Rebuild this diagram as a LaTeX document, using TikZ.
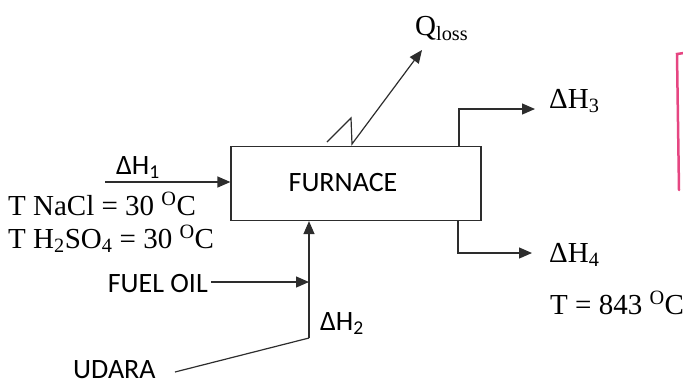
\documentclass[tikz,border=0pt]{standalone}
\usepackage{fontspec}
\setmainfont{Liberation Serif}
\newfontfamily\calib{Carlito}
\usetikzlibrary{arrows.meta,calc,positioning}
\definecolor{inkgray}{RGB}{45,45,45}
\definecolor{markerpink}{RGB}{230,70,130}
\tikzset{
  flow/.style={draw=inkgray,line width=1.2pt,-{Triangle[length=13pt,width=11pt]}},
  plain/.style={draw=inkgray,line width=1.2pt},
  serif/.style={inner sep=0pt,font=\fontsize{29}{31}\selectfont},
  sans/.style={inner sep=0pt,font=\calib\fontsize{28}{30}\selectfont},
  unit/.style={draw=inkgray,line width=1.2pt,minimum width=250pt,minimum height=74pt,inner sep=0pt}
}
\begin{document}
\begin{tikzpicture}[x=1pt,y=-1pt]
\useasboundingbox (0,0) rectangle (683,384);
% furnace
\node[unit] (furnace) at (356,183.5) {};
\node[sans,anchor=base] (furnacetxt) at (343,191) {FURNACE};
% feed 1
\coordinate (h1in) at (105,182);
\draw[flow] (h1in) -- (h1in -| furnace.west);
\node[sans,anchor=base] (h1) at (138,174) {ΔH\textsubscript{1}};
\node[serif,anchor=base west] (tnacl) at (8,215) {T NaCl = 30 \textsuperscript{O}C};
\node[serif,anchor=base west] (tacid) at (8,248) {T H\textsubscript{2}SO\textsubscript{4} = 30 \textsuperscript{O}C};
% heat loss
\coordinate (q1) at (327,142); \coordinate (q2) at (351,118);
\coordinate (q3) at (352,144); \coordinate (qtip) at (422,50);
\draw[flow] (q1) -- (q2) -- (q3) -- (qtip);
\node[serif,anchor=base west] (qloss) at (415,35) {Q\textsubscript{loss}};
% products
\coordinate (o3) at (459,147); \coordinate (h3out) at (535,109);
\draw[flow] (o3) |- (h3out);
\node[serif,anchor=base west] (h3) at (549,108) {ΔH\textsubscript{3}};
\coordinate (o4) at (458,220); \coordinate (h4out) at (532,253);
\draw[flow] (o4) |- (h4out);
\node[serif,anchor=base west] (h4) at (549,262) {ΔH\textsubscript{4}};
\node[serif,anchor=base west] (tout) at (550,314) {T = 843 \textsuperscript{O}C};
% fuel and air
\node[sans,anchor=base east] (fuel) at (208,292) {FUEL OIL};
\node[sans,anchor=base west] (udara) at (73,378) {UDARA};
\coordinate (fueljoin) at (309,282); \coordinate (mix) at (309,338);
\coordinate (udaraend) at (175,372);
\draw[flow] ($(fuel.east |- fueljoin)+(3,0)$) -- (fueljoin);
\draw[flow] (mix) -- (mix |- furnace.south);
\draw[plain] (udaraend) -- (mix);
\node[sans,anchor=base west] (h2) at (320,330) {ΔH\textsubscript{2}};
% marker stroke at the page edge
\draw[markerpink,line width=2.5pt,line cap=round] (684,53) -- (677,54) -- (679,190);
\end{tikzpicture}
\end{document}
